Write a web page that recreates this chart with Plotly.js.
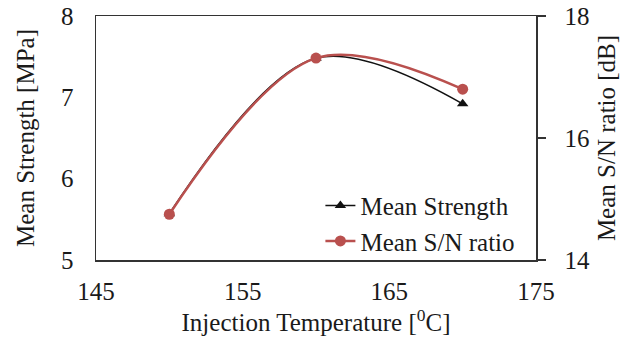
<!DOCTYPE html>
<html><head><meta charset="utf-8">
<script src="https://cdn.plot.ly/plotly-3.0.1.min.js"></script>
<style>html,body{margin:0;padding:0;background:#fff}#chart{width:634px;height:340px}</style>
</head><body><div id="chart"></div>
<script>
const temperatures = [150, 160, 170];
const meanStrength = [5.57, 7.48, 6.92];
const meanSN = [14.75, 17.31, 16.80];
const xTicks = [145, 155, 165, 175];
const yLeftTicks = [5, 6, 7, 8];
const yRightTicks = [14, 16, 18];

const font = {family: '"Liberation Serif", "Times New Roman", serif', size: 25, color: '#1a1a1a'};

const traces = [
  {x: temperatures, y: meanStrength, name: 'Mean Strength', type: 'scatter', mode: 'lines+markers',
   line: {color: '#111', width: 1.5, shape: 'spline', smoothing: 1},
   marker: {symbol: 'triangle-up', size: 10, color: '#111'}, yaxis: 'y'},
  {x: temperatures, y: meanSN, name: 'Mean S/N ratio', type: 'scatter', mode: 'lines+markers',
   line: {color: '#b9504e', width: 2.5, shape: 'spline', smoothing: 1},
   marker: {symbol: 'circle', size: 11, color: '#b9504e'}, yaxis: 'y2'}
];

const layout = {
  width: 634, height: 340,
  margin: {l: 96, r: 98, t: 16, b: 80},
  paper_bgcolor: '#fff', plot_bgcolor: '#fff',
  font: font,
  showlegend: true,
  legend: {x: 0.51, y: -0.015, xanchor: 'left', yanchor: 'bottom', bgcolor: 'rgba(0,0,0,0)',
           font: font, tracegroupgap: 0},
  xaxis: {range: [145, 175], tickvals: xTicks, ticktext: xTicks.map(String),
          showgrid: false, zeroline: false, showline: true, linecolor: '#333', linewidth: 1.5,
          mirror: true, ticks: '', ticklabelstandoff: 8,
          title: {text: 'Injection Temperature [<sup>0</sup>C]', font: font, standoff: 4}},
  yaxis: {range: [5, 8], tickvals: yLeftTicks, ticktext: yLeftTicks.map(String),
          showgrid: false, zeroline: false, showline: true, linecolor: '#333', linewidth: 1.5,
          ticks: '', ticklabelstandoff: 16,
          title: {text: 'Mean Strength [MPa]', font: font, standoff: 19}},
  yaxis2: {range: [14, 18], tickvals: yRightTicks, ticktext: yRightTicks.map(String),
           overlaying: 'y', side: 'right',
           showgrid: false, zeroline: false, showline: true, linecolor: '#333', linewidth: 1.5,
           ticks: 'outside', ticklen: 8, tickcolor: '#333', tickwidth: 1.5, ticklabelstandoff: 14,
           title: {text: 'Mean S/N ratio [dB]', font: font, standoff: 8}}
};

Plotly.newPlot('chart', traces, layout, {displayModeBar: false, staticPlot: true});
</script>
</body></html>
